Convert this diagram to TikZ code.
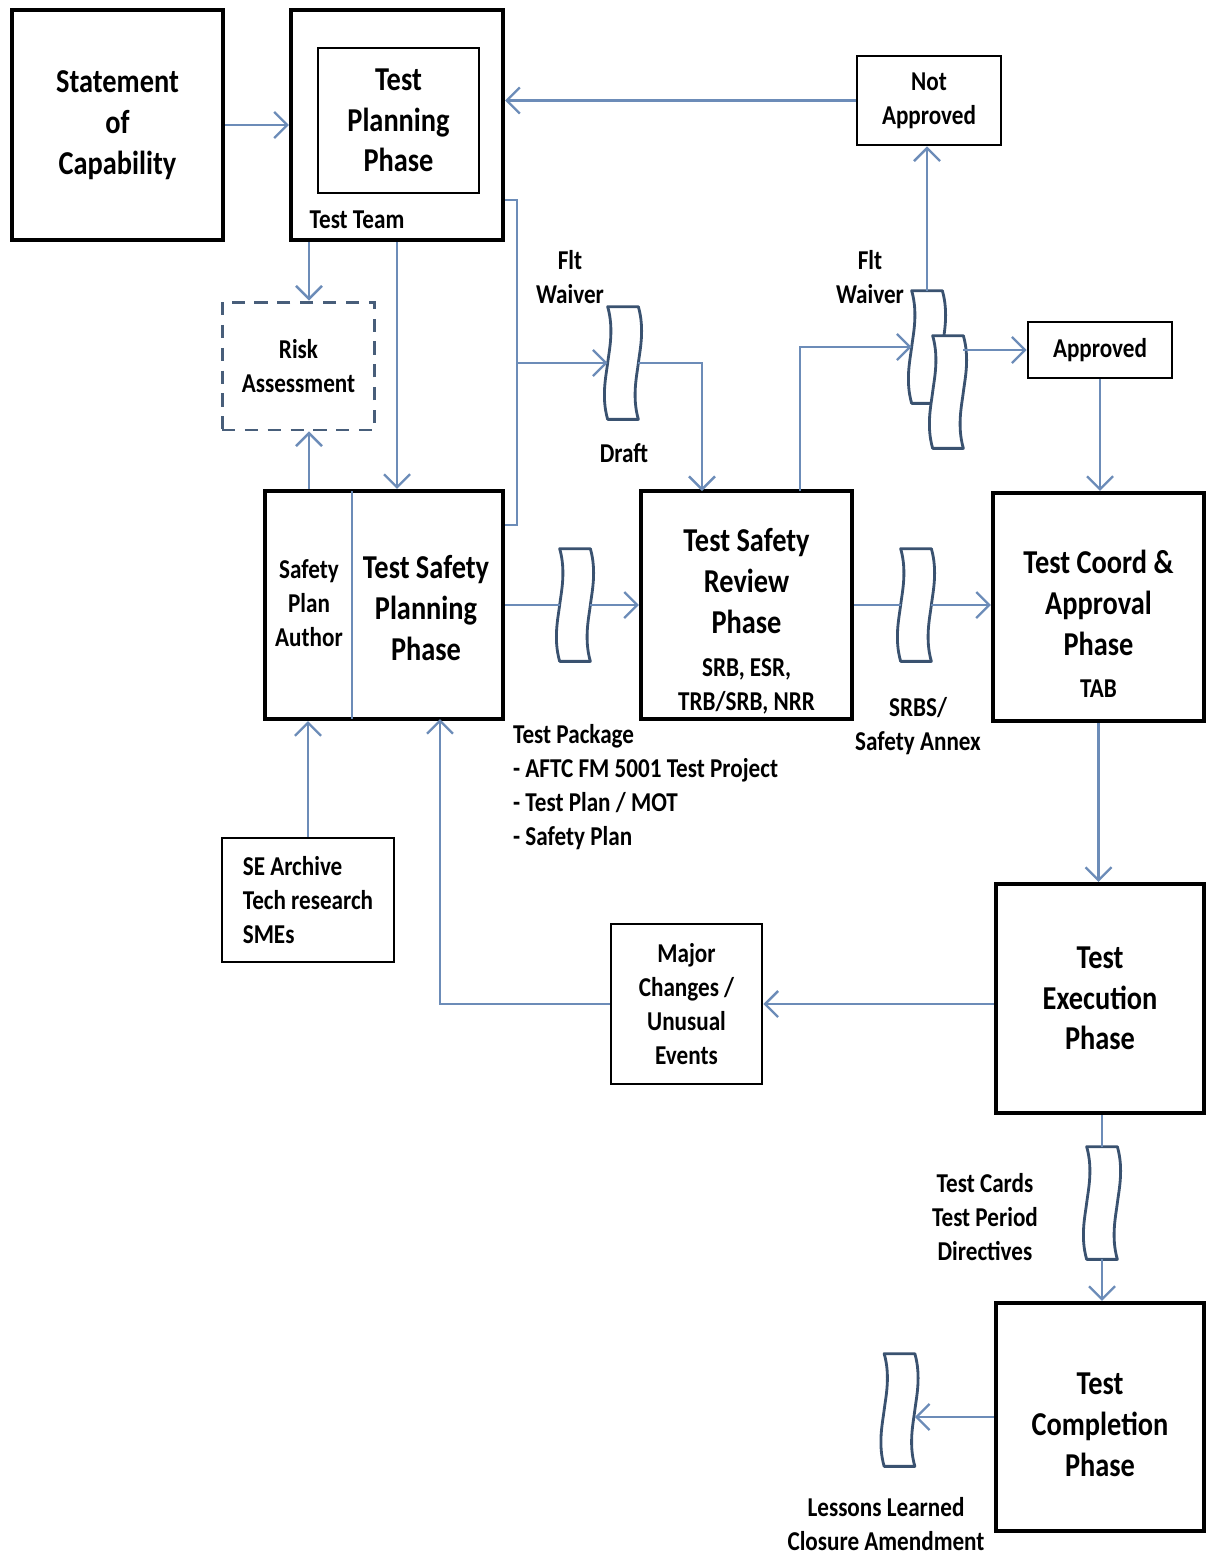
\documentclass[tikz,border=0pt]{standalone}
\usepackage{fontspec}
\setmainfont[FakeStretch=0.85]{Carlito}
\usepackage{tikz}
\usetikzlibrary{positioning, calc, arrows.meta}
\definecolor{FlowColor}{RGB}{108,140,184}
\definecolor{DocColor}{RGB}{58,82,112}
\definecolor{RiskColor}{RGB}{72,94,122}
\newcommand{\bigfont}{\bfseries\fontsize{19}{23.2}\selectfont}
\newcommand{\midfont}{\bfseries\fontsize{15.5}{19.3}\selectfont}
\tikzset{
    phase/.style={
        draw=black,
        line width=2.4pt,
        align=center,
        inner sep=0pt,
        font=\bigfont
    },
    notebox/.style={
        draw=black,
        line width=1.6pt,
        align=center,
        inner sep=0pt,
        font=\midfont
    },
    tag/.style={align=center, inner sep=1pt, font=\midfont},
    link/.style={draw=FlowColor, line width=1.35pt},
    flow/.style={link, -{Straight Barb[length=2.6mm, width=5.2mm, line width=1.35pt]}},
    wavydoc/.style={
        shape=rectangle,
        draw=none,
        inner sep=0pt,
        minimum width=0.6cm,
        minimum height=2.24cm,
        append after command={
            \pgfextra{
                \draw[DocColor, line width=1.6pt, fill=white, line join=round]
                    (\tikzlastnode.north west) -- (\tikzlastnode.north east)
                    .. controls +(0.13cm,-0.45cm) and +(0.03cm,0.25cm) .. (\tikzlastnode.east)
                    .. controls +(-0.03cm,-0.25cm) and +(-0.13cm,0.45cm) .. (\tikzlastnode.south east)
                    -- (\tikzlastnode.south west)
                    .. controls +(-0.13cm,0.45cm) and +(-0.03cm,-0.25cm) .. (\tikzlastnode.west)
                    .. controls +(0.03cm,0.25cm) and +(0.13cm,-0.45cm) .. (\tikzlastnode.north west)
                    -- cycle;
            }
        }
    }
}

\begin{document}
\begin{tikzpicture}[x=0.02cm, y=-0.02cm]
\useasboundingbox (0,0) rectangle (1206,1556);

% Top row
\node[phase, minimum width=4.22cm, minimum height=4.6cm] (soc) at (117.5,125) {Statement\\of\\Capability};
\node[phase, minimum width=4.24cm, minimum height=4.6cm] (tp) at (397,125) {};
\node[draw=black, line width=1.2pt, minimum width=3.22cm, minimum height=2.9cm, align=center, font=\bigfont] (tp_in) at (398.5,120.5) {Test\\Planning\\Phase};
\node[tag] (team) at (357,220) {Test Team};
\node[notebox, minimum width=2.88cm, minimum height=1.78cm] (notok) at (929,100.5) {Not\\Approved};

% Middle row
\node[draw=RiskColor, line width=1.7pt, dash pattern=on 7.5pt off 5.5pt, minimum width=3.06cm, minimum height=2.56cm, align=center, font=\midfont] (risk) at (298.5,366) {Risk\\Assessment};
\node[notebox, minimum width=2.88cm, minimum height=1.12cm] (appr) at (1100,350) {Approved};

\node[phase, minimum width=4.76cm, minimum height=4.56cm] (tsp) at (384,605) {};
\draw[FlowColor, line width=0.9pt] (352,491) -- (352,719);
\node[tag] (author) at (309,603) {Safety\\Plan\\Author};
\node[align=center, font=\bigfont] (tsp_t) at (426,608) {Test Safety\\Planning\\Phase};

\node[phase, minimum width=4.22cm, minimum height=4.56cm] (tsr) at (746.5,605) {};
\node[align=center, font=\bigfont] (tsr_t) at (746.5,581) {Test Safety\\Review\\Phase};
\node[tag] (tsr_b) at (746.5,686) {SRB, ESR,\\TRB/SRB, NRR};

\node[phase, minimum width=4.22cm, minimum height=4.56cm] (tca) at (1098.5,607) {};
\node[align=center, font=\bigfont] (tca_t) at (1098.5,603) {Test Coord \&\\Approval\\Phase};
\node[tag] (tab) at (1098.5,689) {TAB};

% Lower part
\node[notebox, minimum width=3.44cm, minimum height=2.48cm, align=left] (se) at (308,900) {SE Archive\\Tech research\\SMEs};
\node[notebox, minimum width=3.02cm, minimum height=3.2cm] (major) at (686.5,1004) {Major\\Changes /\\Unusual\\Events};
\node[phase, minimum width=4.16cm, minimum height=4.58cm] (exec) at (1100,998.5) {Test\\Execution\\Phase};
\node[phase, minimum width=4.16cm, minimum height=4.56cm] (done) at (1100,1417) {};
\node[align=center, font=\bigfont] (done_t) at (1100,1425) {Test\\Completion\\Phase};

% Documents
\node[wavydoc] (waiver1) at (623,363) {};
\node[wavydoc] (pkg) at (575,605) {};
\node[wavydoc] (waiver2a) at (927,347) {};
\node[wavydoc] (waiver2b) at (948,392) {};
\node[wavydoc] (srbs) at (916,605) {};
\node[wavydoc] (cards) at (1102,1203) {};
\node[wavydoc] (lessons) at (899.5,1410) {};

% Labels
\node[tag] (flt1) at (570,277) {Flt\\Waiver};
\node[tag] (draft) at (624,453) {Draft};
\node[tag] (flt2) at (870,277) {Flt\\Waiver};
\node[tag, align=left, anchor=west] (pkg_t) at (511,787) {Test Package\\- AFTC FM 5001 Test Project\\- Test Plan / MOT\\- Safety Plan};
\node[tag] (srbs_t) at (918,726) {SRBS/\\Safety Annex};
\node[tag] (cards_t) at (985,1217) {Test Cards\\Test Period\\Directives};
\node[tag] (lessons_t) at (886,1524) {Lessons Learned\\Closure Amendment};

% Connectors
\coordinate (br_top) at (517,200);
\coordinate (br_bot) at (517,525);
\coordinate (tsr_in) at (702,491);
\coordinate (tsr_out) at (800,491);
\coordinate (tsp_in) at (440,719);

\draw[flow] (soc) -- (tp);
\draw[flow] (notok.west) -- (notok.west -| tp.east);
\draw[flow] (author.north |- tp.south) -- (author.north |- risk.north);
\draw[flow] (tp.south) -- (tp.south |- tsp.north);
\draw[flow] (author.north |- tsp.north) -- (author.north |- risk.south);
\draw[link] (br_top -| tp.east) -- (br_top) -- (br_bot) -- (br_bot -| tsp.east);
\draw[flow] (br_top |- waiver1.west) -- (waiver1.west);
\draw[flow] (waiver1.east) -| (tsr_in);
\draw[link] (tsp.east) -- (pkg.west);
\draw[flow] (pkg.east) -- (pkg.east -| tsr.west);
\draw[flow] (tsr_out) |- (waiver2a.west);
\draw[flow] (waiver2a.north) -- (waiver2a.north |- notok.south);
\draw[flow] (waiver2b.east |- appr.west) -- (appr.west);
\draw[flow] (appr.south) -- (appr.south |- tca.north);
\draw[link] (tsr.east) -- (srbs.west);
\draw[flow] (srbs.east) -- (srbs.east -| tca.west);
\draw[flow] (tca.south) -- (tca.south |- exec.north);
\draw[flow] (exec.west |- major.east) -- (major.east);
\draw[flow] (major.west) -| (tsp_in);
\draw[flow] (se.north) -- (se.north |- tsp.south);
\draw[link] (exec.south -| cards.north) -- (cards.north);
\draw[flow] (cards.south) -- (cards.south |- done.north);
\draw[flow] (done.west) -- (done.west -| lessons.east);

\end{tikzpicture}
\end{document}
